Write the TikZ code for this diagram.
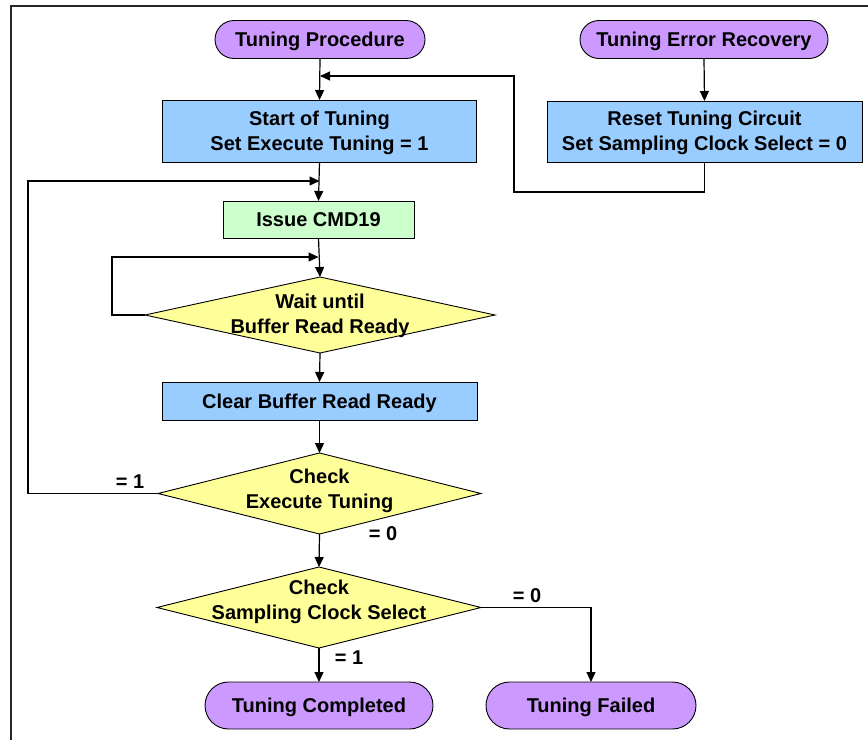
\documentclass[tikz,border=0pt]{standalone}
\usepackage{fontspec}
\setmainfont{Liberation Sans}
\usetikzlibrary{arrows.meta,backgrounds}
\definecolor{termc}{HTML}{CC99FF}
\definecolor{procc}{HTML}{99CCFF}
\definecolor{cmdc}{HTML}{CCFFCC}
\definecolor{decc}{HTML}{FFFF99}
\begin{document}
\begin{tikzpicture}[x=1pt,y=-1pt,
  every node/.style={font=\fontsize{20}{25}\selectfont\bfseries, align=center, inner sep=0pt, outer sep=0pt},
  oneline/.style={text depth=0pt},
  twoline/.style={text depth=#1},
  termbox/.style={draw, fill=termc, line width=0.9pt, oneline},
  procbox/.style={draw, fill=procc, line width=0.9pt},
  cmdbox/.style={draw, fill=cmdc, line width=0.9pt, oneline},
  decbox/.style={rectangle},
  decshape/.style={fill=decc, draw, line width=0.9pt, line join=miter},
  conn/.style={line width=1.2pt, -{Triangle[length=10pt,width=9pt]}},
  lab/.style={font=\fontsize{20}{25}\selectfont\bfseries, oneline}
]
\useasboundingbox (0,0) rectangle (868,740);
\draw[line width=2pt, black!85] (11,740) -- (11,6) -- (868,6);

% nodes
\node[termbox, rounded corners=19pt, minimum width=210pt, minimum height=38pt] (tp) at (320,39.5) {Tuning Procedure};
\node[termbox, rounded corners=19pt, minimum width=248pt, minimum height=38pt] (ter) at (704,39.5) {Tuning Error Recovery};
\node[procbox, twoline=1pt, minimum width=314pt, minimum height=62pt] (start) at (319.5,131) {Start of Tuning\\Set Execute Tuning = 1};
\node[procbox, twoline=1pt, minimum width=315pt, minimum height=61pt] (reset) at (704.5,131.5) {Reset Tuning Circuit\\Set Sampling Clock Select = 0};
\node[cmdbox, minimum width=191pt, minimum height=37pt] (issue) at (318.5,219.5) {Issue CMD19};
\node[decbox, twoline=3pt, minimum width=350pt, minimum height=76pt] (wait) at (320,315) {Wait until\\Buffer Read Ready};
\node[procbox, oneline, minimum width=315pt, minimum height=38pt] (clear) at (319.5,401) {Clear Buffer Read Ready};
\node[decbox, twoline=9pt, minimum width=323pt, minimum height=81pt] (chkexe) at (319.5,493.5) {Check\\Execute Tuning};
\node[decbox, twoline=16pt, minimum width=324pt, minimum height=81pt] (chksamp) at (319,607.5) {Check\\Sampling Clock Select};
\node[termbox, rounded corners=23.5pt, minimum width=228pt, minimum height=47pt] (done) at (319,705.5) {Tuning Completed};
\node[termbox, rounded corners=23.5pt, minimum width=210pt, minimum height=47pt] (failed) at (591,705.5) {Tuning Failed};

\begin{scope}[on background layer]
  \foreach \n in {wait,chkexe,chksamp}
    \path[decshape] (\n.north) -- (\n.east) -- (\n.south) -- (\n.west) -- cycle;
\end{scope}

% labels
\node[lab] (l1) at (130,482) {= 1};
\node[lab] (l2) at (383,534) {= 0};
\node[lab] (l3) at (527,596) {= 0};
\node[lab] (l4) at (349,658) {= 1};

% coordinates for routing
\coordinate (rb) at (514,192);
\coordinate (rt) at (514,76);
\coordinate (la) at (28,493.5);
\coordinate (lb) at (28,181);
\coordinate (wa) at (112,315);
\coordinate (wb) at (112,257);

% connectors
\draw[conn] (tp.south) -- (start.north);
\draw[conn] (ter.south) -- (reset.north);
\draw[conn] (reset.south) |- (rb) -- (rt) -- (rt -| tp.south);
\draw[conn] (start.south) -- (issue.north);
\draw[conn] (chkexe.west) -- (la) -- (lb) -- (lb -| start.south);
\draw[conn] (issue.south) -- (wait.north);
\draw[conn] (wait.west) -- (wa) -- (wb) -- (wb -| issue.south);
\draw[conn] (wait.south) -- (clear.north);
\draw[conn] (clear.south) -- (chkexe.north);
\draw[conn] (chkexe.south) -- (chksamp.north);
\draw[conn] (chksamp.south) -- (done.north);
\draw[conn] (chksamp.east) -| (failed.north);
\end{tikzpicture}
\end{document}
